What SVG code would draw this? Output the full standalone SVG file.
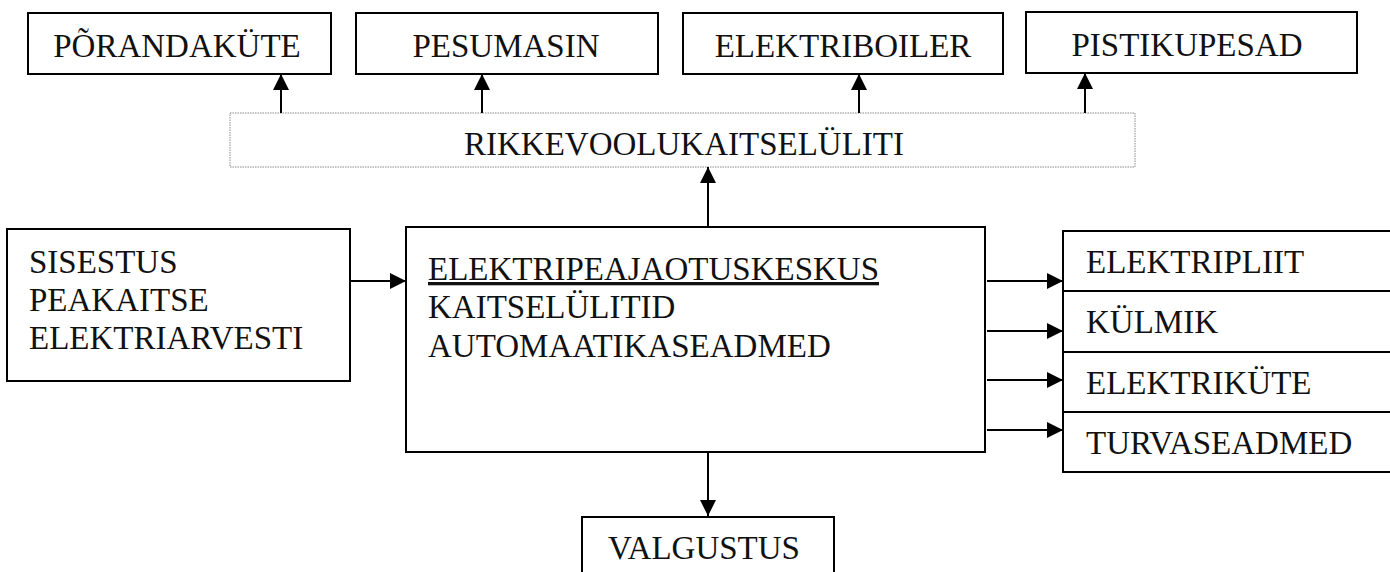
<svg xmlns="http://www.w3.org/2000/svg" width="1390" height="572" viewBox="0 0 1390 572">
<defs>
<style>
.box{fill:#fff;stroke:#000;stroke-width:2}
.dot{fill:#fff;stroke:#888;stroke-width:1;stroke-dasharray:1.5 1}
.t{font-family:"Liberation Serif","Times New Roman",serif;font-size:33px;fill:#111}
.c{text-anchor:middle}
.con{stroke:#000;stroke-width:2;fill:none;marker-end:url(#ah)}
</style>
<marker id="ah" markerUnits="userSpaceOnUse" markerWidth="18" markerHeight="16" refX="16" refY="8" orient="auto">
<path d="M0,0 L16,8 L0,16 Z" fill="#000"/>
</marker>
</defs>
<rect width="1390" height="572" fill="#fff"/>
<g id="porandakyte"><rect class="box" x="28" y="13" width="303" height="61"/><text class="t c" x="177" y="57">PÕRANDAKÜTE</text></g>
<g id="pesumasin"><rect class="box" x="356" y="13" width="302" height="61"/><text class="t c" x="506" y="57">PESUMASIN</text></g>
<g id="elektriboiler"><rect class="box" x="683" y="13" width="320" height="61"/><text class="t c" x="843" y="57">ELEKTRIBOILER</text></g>
<g id="pistikupesad"><rect class="box" x="1026" y="12" width="331" height="61"/><text class="t c" x="1187" y="56">PISTIKUPESAD</text></g>
<g id="rikkevool"><rect class="dot" x="230" y="113" width="905" height="54"/><text class="t c" x="684" y="155">RIKKEVOOLUKAITSELÜLITI</text></g>
<g id="sisestus"><rect class="box" x="7" y="229" width="343" height="152"/>
<text class="t" x="29" y="273">SISESTUS</text><text class="t" x="29" y="311">PEAKAITSE</text><text class="t" x="29" y="349">ELEKTRIARVESTI</text></g>
<g id="peajaotus"><rect class="box" x="406" y="227" width="579" height="225"/>
<text class="t" x="428" y="280" text-decoration="underline">ELEKTRIPEAJAOTUSKESKUS</text>
<text class="t" x="428" y="318">KAITSELÜLITID</text><text class="t" x="428" y="357">AUTOMAATIKASEADMED</text></g>
<g id="elektripliit"><rect class="box" x="1063" y="231" width="335" height="60"/><text class="t" x="1086" y="273">ELEKTRIPLIIT</text></g>
<g id="kylmik"><rect class="box" x="1063" y="291" width="335" height="61"/><text class="t" x="1086" y="333">KÜLMIK</text></g>
<g id="elektrikyte"><rect class="box" x="1063" y="352" width="335" height="60"/><text class="t" x="1086" y="394">ELEKTRIKÜTE</text></g>
<g id="turvaseadmed"><rect class="box" x="1063" y="412" width="335" height="60"/><text class="t" x="1086" y="454">TURVASEADMED</text></g>
<g id="valgustus"><rect class="box" x="582" y="517" width="252" height="70"/><text class="t c" x="704" y="559">VALGUSTUS</text></g>
<g id="connectors">
<line class="con" x1="281" y1="113" x2="281" y2="74"/>
<line class="con" x1="482" y1="113" x2="482" y2="74"/>
<line class="con" x1="859" y1="113" x2="859" y2="74"/>
<line class="con" x1="1085" y1="113" x2="1085" y2="73"/>
<line class="con" x1="708" y1="227" x2="708" y2="167"/>
<line class="con" x1="350" y1="281" x2="406" y2="281"/>
<line class="con" x1="987" y1="281" x2="1063" y2="281"/>
<line class="con" x1="987" y1="331" x2="1063" y2="331"/>
<line class="con" x1="987" y1="380" x2="1063" y2="380"/>
<line class="con" x1="987" y1="430" x2="1063" y2="430"/>
<line class="con" x1="708" y1="453" x2="708" y2="516"/>
</g>
</svg>
